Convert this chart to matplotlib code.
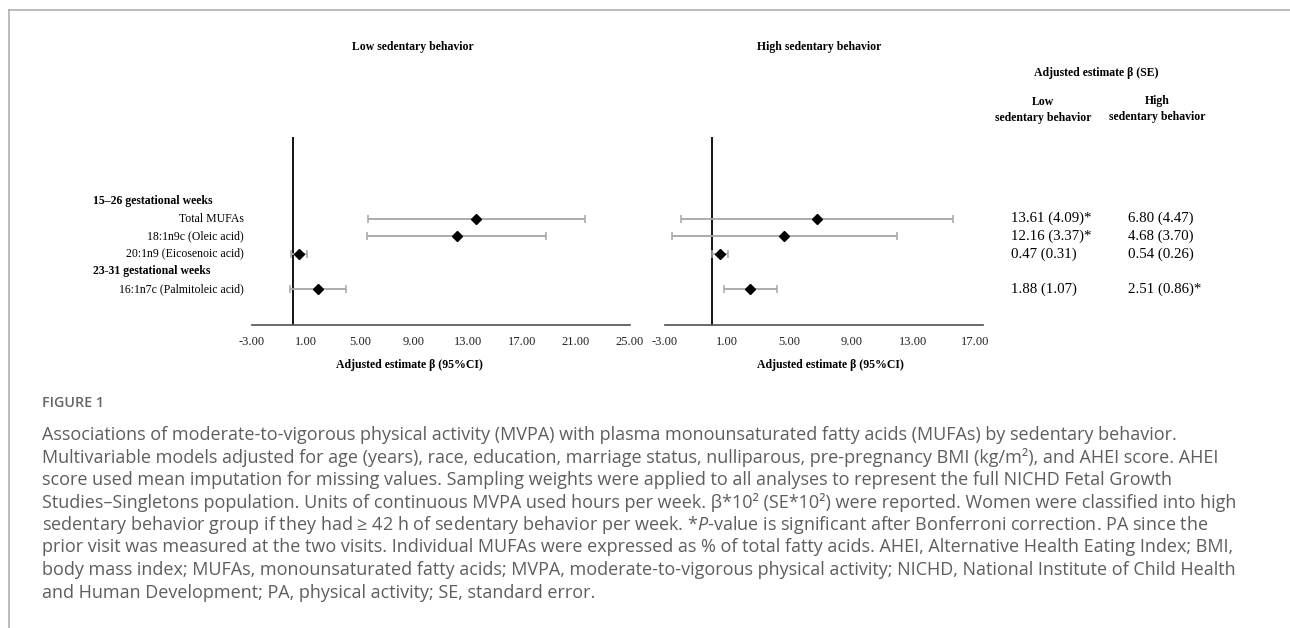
import matplotlib
matplotlib.use("Agg")
import matplotlib.pyplot as plt
import matplotlib.transforms as mtransforms
from matplotlib.lines import Line2D

# ---- data ----
row_labels = ["Total MUFAs", "18:1n9c (Oleic acid)", "20:1n9 (Eicosenoic acid)",
              "16:1n7c (Palmitoleic acid)"]
row_pos = [1, 2, 3, 5]
group_labels = ["15–26 gestational weeks", "23-31 gestational weeks"]
group_pos = [0, 4]

low_beta = [13.61, 12.16, 0.47, 1.88]
low_se = [4.09, 3.37, 0.31, 1.07]
low_sig = [True, True, False, False]
low_lo = [5.59, 5.55, -0.14, -0.22]
low_hi = [21.63, 18.77, 1.08, 3.98]

high_beta = [6.80, 4.68, 0.54, 2.51]
high_se = [4.47, 3.70, 0.26, 0.86]
high_sig = [False, False, False, True]
high_lo = [-1.96, -2.57, 0.03, 0.82]
high_hi = [15.56, 11.93, 1.05, 4.20]

low_ticks = [-3, 1, 5, 9, 13, 17, 21, 25]
high_ticks = [-3, 1, 5, 9, 13, 17]

caption_title = "FIGURE 1"
caption_lines = [
    "Associations of moderate-to-vigorous physical activity (MVPA) with plasma monounsaturated fatty acids (MUFAs) by sedentary behavior.",
    "Multivariable models adjusted for age (years), race, education, marriage status, nulliparous, pre-pregnancy BMI (kg/m²), and AHEI score. AHEI",
    "score used mean imputation for missing values. Sampling weights were applied to all analyses to represent the full NICHD Fetal Growth",
    "Studies–Singletons population. Units of continuous MVPA used hours per week. β*10² (SE*10²) were reported. Women were classified into high",
    "sedentary behavior group if they had ≥ 42 h of sedentary behavior per week. *$\\mathit{P}$-value is significant after Bonferroni correction. PA since the",
    "prior visit was measured at the two visits. Individual MUFAs were expressed as % of total fatty acids. AHEI, Alternative Health Eating Index; BMI,",
    "body mass index; MUFAs, monounsaturated fatty acids; MVPA, moderate-to-vigorous physical activity; NICHD, National Institute of Child Health",
    "and Human Development; PA, physical activity; SE, standard error.",
]

# ---- figure ----
W, H = 1290, 628
plt.rcParams['font.family'] = ['Liberation Serif', 'DejaVu Serif']
plt.rcParams['mathtext.fontset'] = 'custom'
plt.rcParams['mathtext.rm'] = 'Open Sans'
plt.rcParams['mathtext.it'] = 'Open Sans:italic'

fig = plt.figure(figsize=(W / 100, H / 100), dpi=100)


def fx(px):
    return px / W


def fy(py):
    return 1 - py / H


def make_panel(x0, x1, xlim, ticks, beta, lo, hi, title, title_x, xlabel_x):
    ax = fig.add_axes([fx(x0), fy(325), fx(x1 - x0), (325 - 137) / H])
    ax.set_xlim(*xlim)
    ax.set_ylim(7.05, -3.64)
    for s in ['top', 'right', 'left']:
        ax.spines[s].set_visible(False)
    ax.spines['bottom'].set_color('#505050')
    ax.spines['bottom'].set_linewidth(1.2)
    ax.set_yticks([])
    ax.set_xticks(ticks)
    ax.set_xticklabels(["%.2f" % t for t in ticks], fontsize=9, color='#222222')
    ax.tick_params(axis='x', length=0, pad=8)
    ax.axvline(0, color='black', lw=1.3)
    xerr = [[b - l for b, l in zip(beta, lo)], [h - b for b, h in zip(beta, hi)]]
    ax.errorbar(beta, row_pos, xerr=xerr, fmt='D', color='black', markersize=5.5,
                ecolor='#a6a6a6', elinewidth=1.3, capsize=3.2, capthick=1.1)
    fig.text(fx(title_x), fy(47), title, ha='center', va='center',
             fontsize=8.5, fontweight='bold')
    fig.text(fx(xlabel_x), fy(365), "Adjusted estimate β (95%CI)", ha='center',
             va='center', fontsize=8.5, fontweight='bold')
    return ax


ax_low = make_panel(252, 630, (-3, 25), low_ticks, low_beta, low_lo, low_hi,
                    "Low sedentary behavior", 413, 409)
ax_high = make_panel(665, 983, (-3, 17.5), high_ticks, high_beta, high_lo, high_hi,
                     "High sedentary behavior", 819, 830)

# row labels and group headers aligned with the data rows
tr = mtransforms.blended_transform_factory(fig.transFigure, ax_low.transData)
for lab, p in zip(row_labels, row_pos):
    fig.text(fx(244), p, lab, transform=tr, ha='right', va='center', fontsize=8.5)
for lab, p in zip(group_labels, group_pos):
    fig.text(fx(93), p, lab, transform=tr, ha='left', va='center', fontsize=8.5,
             fontweight='bold')

# table on the right
fig.text(fx(1096), fy(73), "Adjusted estimate β (SE)", ha='center', va='center',
         fontsize=8.5, fontweight='bold')
fig.text(fx(1043), fy(110), "Low\nsedentary behavior", ha='center', va='center',
         fontsize=8.5, fontweight='bold', linespacing=1.4)
fig.text(fx(1157), fy(109), "High\nsedentary behavior", ha='center', va='center',
         fontsize=8.5, fontweight='bold', linespacing=1.4)
for b, s, sig, p in zip(low_beta, low_se, low_sig, row_pos):
    fig.text(fx(1011), p, "%.2f (%.2f)%s" % (b, s, "*" if sig else ""), transform=tr,
             ha='left', va='center', fontsize=10.7)
for b, s, sig, p in zip(high_beta, high_se, high_sig, row_pos):
    fig.text(fx(1128), p, "%.2f (%.2f)%s" % (b, s, "*" if sig else ""), transform=tr,
             ha='left', va='center', fontsize=10.7)

# frame lines (top and left)
fig.add_artist(Line2D([fx(9), 1], [fy(10), fy(10)], color='#b0b0b0', lw=1.2))
fig.add_artist(Line2D([fx(9), fx(9)], [fy(10), 0], color='#b0b0b0', lw=1.2))

# caption
cap_font = ['Open Sans', 'DejaVu Sans']
fig.text(fx(42), fy(403), caption_title, ha='left', va='center', fontsize=10.3,
         fontweight='semibold', color='#666666', family=cap_font)
for i, line in enumerate(caption_lines):
    fig.text(fx(42), fy(435 + i * 22.5), line, ha='left', va='center', fontsize=13.0,
             color='#5e5e5e', family=cap_font)

fig.savefig("out.png", dpi=100)
